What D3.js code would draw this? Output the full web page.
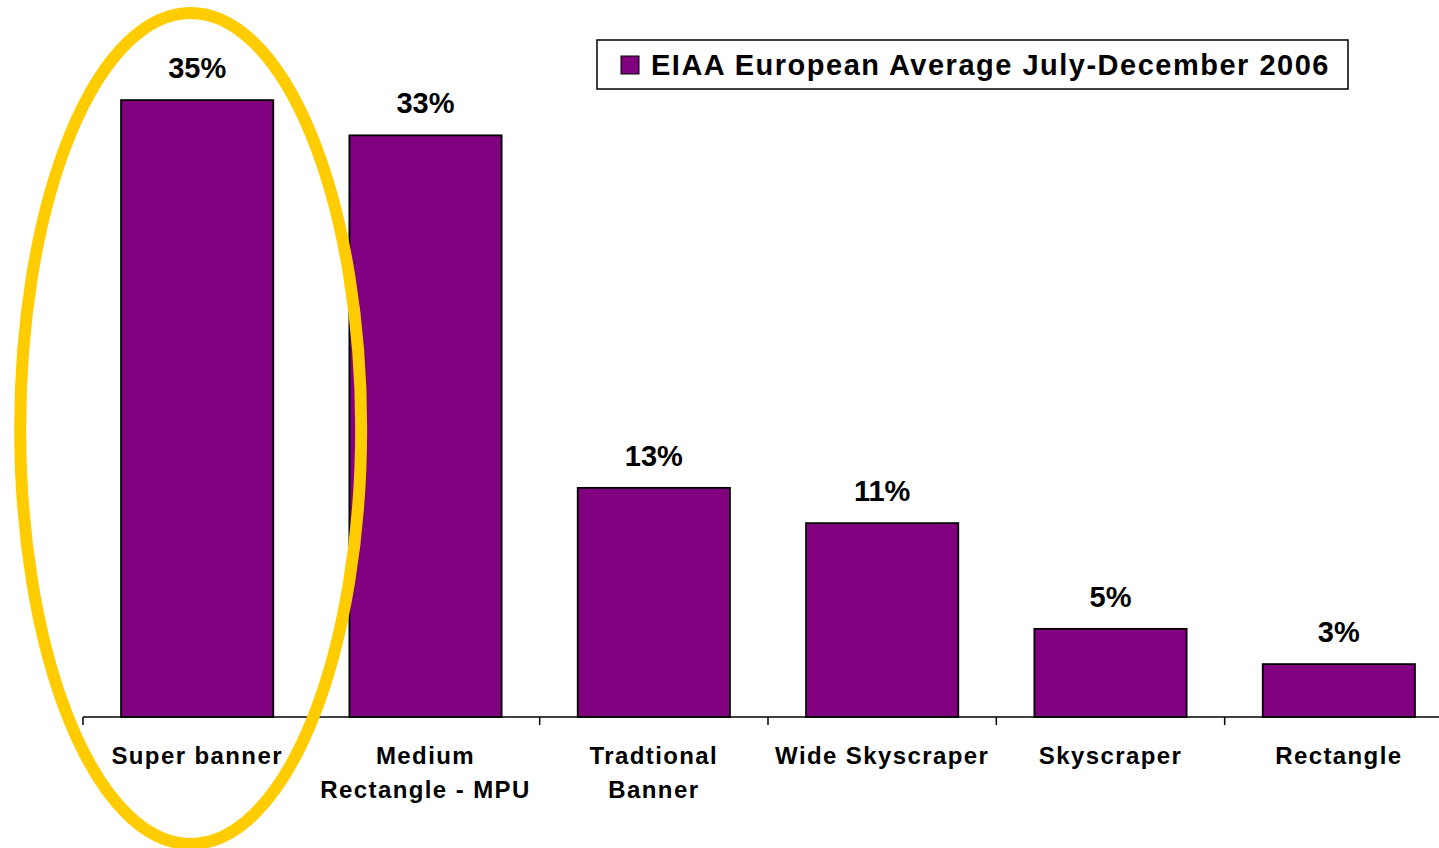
<!DOCTYPE html>
<html>
<head>
<meta charset="utf-8">
<script src="https://cdn.jsdelivr.net/npm/d3@7"></script>
<style>
	body { margin: 0; background: #fff; }
	svg { display: block; font-family: "Liberation Sans", Arial, sans-serif; font-weight: bold; }
</style>
</head>
<body>
<svg id="chart" width="1439" height="848"></svg>
<script>
var CATEGORIES = ['Super banner', 'Medium Rectangle - MPU', 'Tradtional Banner', 'Wide Skyscraper', 'Skyscraper', 'Rectangle'];
var LABEL_LINES = [['Super banner'], ['Medium', 'Rectangle - MPU'], ['Tradtional', 'Banner'], ['Wide Skyscraper'], ['Skyscraper'], ['Rectangle']];
var VALUES = [35, 33, 13, 11, 5, 3];
var SERIES_NAME = 'EIAA European Average July-December 2006';
var HIGHLIGHT = 'Super banner';

var svg = d3.select('#chart');

var x = d3.scaleBand()
	.domain(CATEGORIES)
	.range([83, 1453])
	.paddingInner(1 / 3)
	.paddingOuter(1 / 6);

var y = d3.scaleLinear()
	.domain([0, 40])
	.range([717, 12]);

// bars
svg.selectAll('rect.bar')
	.data(VALUES)
	.enter()
	.append('rect')
	.attr('class', 'bar')
	.attr('x', function (d, i) { return x(CATEGORIES[i]); })
	.attr('y', function (d) { return y(d); })
	.attr('width', x.bandwidth())
	.attr('height', function (d) { return y(0) - y(d); })
	.attr('fill', '#800080')
	.attr('stroke', '#000')
	.attr('stroke-width', 1.8);

// value labels
svg.selectAll('text.value')
	.data(VALUES)
	.enter()
	.append('text')
	.attr('class', 'value')
	.attr('x', function (d, i) { return x(CATEGORIES[i]) + x.bandwidth() / 2; })
	.attr('y', function (d) { return y(d) - 22; })
	.attr('text-anchor', 'middle')
	.attr('font-size', 29)
	.text(function (d) { return d + '%'; });

// x axis with ticks between categories
var axis = svg.append('g');
axis.append('line')
	.attr('x1', x.range()[0])
	.attr('x2', x.range()[1])
	.attr('y1', y(0))
	.attr('y2', y(0))
	.attr('stroke', '#000')
	.attr('stroke-width', 1.5);

var tickPos = CATEGORIES.map(function (c) { return x(c) - x.step() * x.paddingInner() / 2; });
tickPos.push(x.range()[1]);
axis.selectAll('line.tick')
	.data(tickPos)
	.enter()
	.append('line')
	.attr('class', 'tick')
	.attr('x1', function (d) { return d; })
	.attr('x2', function (d) { return d; })
	.attr('y1', y(0))
	.attr('y2', y(0) + 8)
	.attr('stroke', '#000')
	.attr('stroke-width', 1.5);

var labels = axis.selectAll('text.cat')
	.data(CATEGORIES)
	.enter()
	.append('text')
	.attr('class', 'cat')
	.attr('text-anchor', 'middle')
	.attr('font-size', 24)
	.attr('letter-spacing', 1.4)
	.attr('y', 764);

labels.selectAll('tspan')
	.data(function (d, i) { return LABEL_LINES[i]; })
	.enter()
	.append('tspan')
	.attr('x', function () {
		var c = d3.select(this.parentNode).datum();
		return x(c) + x.bandwidth() / 2;
	})
	.attr('dy', function (d, i) { return i === 0 ? 0 : 34; })
	.text(function (d) { return d; });

// legend
var legend = svg.append('g');
legend.append('rect')
	.attr('x', 597)
	.attr('y', 40)
	.attr('width', 751)
	.attr('height', 49)
	.attr('fill', '#fff')
	.attr('stroke', '#000')
	.attr('stroke-width', 1.5);
legend.append('rect')
	.attr('x', 621)
	.attr('y', 56)
	.attr('width', 18)
	.attr('height', 18)
	.attr('fill', '#800080')
	.attr('stroke', '#000')
	.attr('stroke-width', 1);
legend.append('text')
	.attr('x', 651)
	.attr('y', 75)
	.attr('font-size', 29)
	.attr('letter-spacing', 1.5)
	.text(SERIES_NAME);

// highlight ellipse round the first category
svg.append('ellipse')
	.attr('cx', x(HIGHLIGHT) + x.bandwidth() / 2 - 6.5)
	.attr('cy', 428.5)
	.attr('rx', 170.5)
	.attr('ry', 415.5)
	.attr('fill', 'none')
	.attr('stroke', '#FFCC00')
	.attr('stroke-width', 12);
</script>
</body>
</html>
